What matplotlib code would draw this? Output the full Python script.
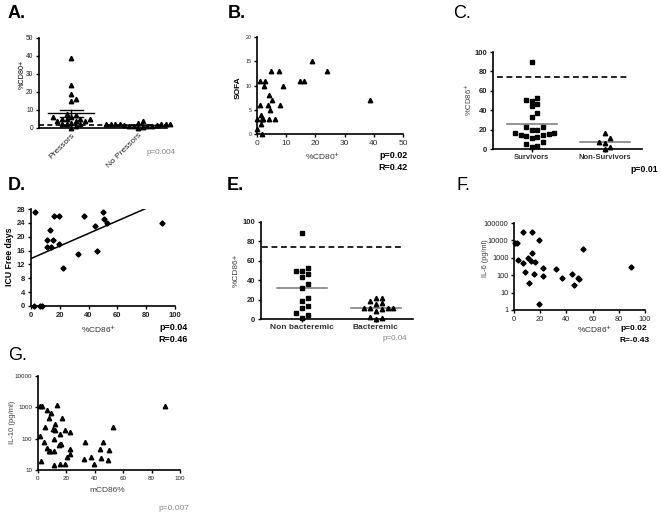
import numpy as np
import matplotlib
matplotlib.use("Agg")
import matplotlib.pyplot as plt

plt.rcParams['font.family'] = ['Liberation Sans', 'DejaVu Sans']

# ---------------- data ----------------
# A
a_cats = ["Pressors", "No Pressors"]
a_pressors = [39, 24, 19, 16, 15, 8, 7, 6, 6, 5, 5, 5, 5, 4, 4, 4, 3, 2, 2, 2, 1, 0]
a_nopressors = [4, 3, 2, 2, 2, 2, 2, 2, 2, 1.5, 1.5, 1, 1, 1, 1, 0.5, 0]
a_threshold = 1.5
a_yticks = [0, 10, 20, 30, 40, 50]

# B
b_x = [19, 24, 4.7, 7.5, 1.0, 2.7, 2.4, 8.9, 14.7, 16.1, 38.8, 4.2, 5.0, 0.9, 3.9, 8.0,
       4.5, 1.4, 1.8, 2.2, 4.1, 6.2, 0.0, 1.4, 0.0, 1.6]
b_y = [15, 13, 13, 13, 11, 11, 10, 10, 11, 11, 7, 8, 7, 6, 6, 6,
       5, 4, 3, 3, 3, 3, 3, 2, 1, 0]
b_xticks = [0, 10, 20, 30, 40, 50]
b_yticks = [0, 5, 10, 15, 20]

# C
c_cats = ["Survivors", "Non-Survivors"]
c_surv = [90, 53, 50.5, 49.5, 46, 44, 37, 33, 23, 23, 19.6, 19.6, 16, 16, 15, 14, 14,
          13, 12, 11, 7, 5, 3.5, 2]
c_nonsurv = [17, 11, 7.5, 6, 2.5, 0]
c_threshold = 74
c_yticks = [0, 20, 40, 60, 80, 100]

# D
d_x = [2.5, 15.7, 19.6, 37, 49.7, 50.8, 53, 44.6, 13.4, 11, 15, 11, 14, 19.6, 32.6,
       46, 22, 90.8, 2, 6, 7.5]
d_y = [27, 26, 26, 26, 27, 25, 24, 23, 22, 19, 19, 17, 17, 18, 15, 16, 11, 24, 0, 0, 0]
d_fit_x = [0, 80]
d_fit_y = [13.7, 28.2]
d_xticks = [0, 20, 40, 60, 80, 100]
d_yticks = [0, 4, 8, 12, 16, 20, 24, 28]

# E
e_cats = ["Non bacteremic", "Bacteremic"]
e_nonbact = [89, 53, 49.7, 49, 46, 43.5, 36, 31.5, 22, 18.5, 13.7, 11, 6, 4, 1.4]
e_bact = [22, 22, 19, 16, 15, 11.6, 11.6, 11.6, 11, 10, 8, 2.4, 0.7, 0]
e_threshold = 74
e_yticks = [0, 20, 40, 60, 80, 100]

# F
f_x = [0.8, 2, 3.3, 6.6, 7.1, 8.1, 11, 11.5, 12.7, 13.7, 14, 15.3, 16, 19.3, 19.3,
       22.4, 22.4, 32, 36.4, 44.3, 46, 49, 49.5, 53, 89.3]
f_y = [6800, 6800, 740, 32000, 480, 146, 1000, 34, 660, 32000, 1800, 122, 600, 10500, 2.2,
       270, 86, 228, 66, 112, 27, 72, 60, 3100, 310]
f_xticks = [0, 20, 40, 60, 80, 100]
f_yticks = [1, 10, 100, 1000, 10000, 100000]
f_yticklabels = ["1", "10", "100", "1000", "10000", "100000"]

# G
g_x = [1.2, 2.8, 13.6, 89.4, 6.4, 9.4, 7.5, 17.2, 12.2, 4.7, 10.6, 12.2, 19.3, 22.4,
       15.8, 52.7, 1.2, 11, 4.2, 33, 45.9, 15.3, 14.6, 16, 6.4, 22.4, 43.8, 7.5, 8.7,
       11, 50, 22.4, 20.5, 37.2, 32.5, 44.2, 49.2, 1.9, 15.3, 11, 19.3, 39.3]
g_y = [1120, 1120, 1180, 1120, 810, 670, 465, 450, 295, 230, 200, 190, 190, 166,
       137, 230, 126, 96, 77, 77, 77, 68, 63, 66, 52, 47, 47, 41, 41,
       41, 42, 32, 26, 26, 23, 24, 21, 19, 16, 14, 15, 15.5]
g_xticks = [0, 20, 40, 60, 80, 100]
g_yticks = [10, 100, 1000, 10000]
g_yticklabels = ["10", "100", "1000", "10000"]

# ---------------- figure ----------------
W, H = 661, 516
fig = plt.figure(figsize=(W / 100, H / 100), dpi=100)


def add_ax(x0, x1, ybot, ytop):
    ax = fig.add_axes([x0 / W, 1 - ybot / H, (x1 - x0) / W, (ybot - ytop) / H])
    for s in ("top", "right"):
        ax.spines[s].set_visible(False)
    for s in ("left", "bottom"):
        ax.spines[s].set_linewidth(1.2)
    ax.tick_params(direction="out", length=2.5, width=1.0, pad=1.5,
                   labelsize=5.5, labelcolor="#222222")
    ax.patch.set_alpha(0)
    return ax


def ptext(x, y, s, **kw):
    fig.text(x / W, 1 - y / H, s, **kw)


def set_label(ax, axis, text, px, py, **kw):
    pos = ax.get_position()
    axx = (px / W - pos.x0) / pos.width
    axy = ((1 - py / H) - pos.y0) / pos.height
    if axis == "y":
        ax.set_ylabel(text, va="center", ha="center", **kw)
        ax.yaxis.set_label_coords(axx, axy)
    else:
        ax.set_xlabel(text, va="center", ha="center", **kw)
        ax.xaxis.set_label_coords(axx, axy)


def swarm(ax, xc, vals, d_px):
    trans = ax.transData
    inv = trans.inverted()
    placed = []
    xs = np.zeros(len(vals))
    order = np.argsort(vals)
    for i in order:
        xpx0, ypx = trans.transform((xc, vals[i]))
        for k in range(60):
            off = ((k + 1) // 2) * d_px * (1 if k % 2 else -1)
            xp = xpx0 + off
            ok = all((xp - px) ** 2 + (ypx - py) ** 2 >= (d_px * 0.95) ** 2 for px, py in placed)
            if ok:
                break
        placed.append((xp, ypx))
        xs[i] = inv.transform((xp, ypx))[0]
    return xs


bold = dict(fontweight="bold")

# ---- A ----
axA = add_ax(39, 167, 128, 38)
axA.set_ylim(0, 50)
axA.set_xlim(-0.48, 1.43)
axA.set_yticks(a_yticks)
axA.set_xticks([0, 1])
axA.set_xticklabels(a_cats, rotation=45, ha="right", rotation_mode="anchor",
                    fontsize=6, color="#222222")
axA.tick_params(axis="x", length=0, pad=3)
axA.tick_params(axis="y", labelsize=4.8)
for i, vals in enumerate([a_pressors, a_nopressors]):
    xs = swarm(axA, i, vals, 4.6)
    axA.plot(xs, vals, ls="none", marker="^", ms=3.2, color="black", clip_on=False, zorder=3)
    m = np.mean(vals)
    sem = np.std(vals, ddof=1) / np.sqrt(len(vals))
    axA.plot([i - 0.34, i + 0.34], [m, m], color="black", lw=1.0, zorder=4)
    axA.plot([i - 0.17, i + 0.17], [m + sem, m + sem], color="black", lw=1.0, zorder=4)
    axA.plot([i - 0.17, i + 0.17], [m - sem, m - sem], color="black", lw=1.0, zorder=4)
    axA.plot([i, i], [m - sem, m + sem], color="black", lw=1.0, zorder=4)
axA.plot([-0.48, 1.43], [a_threshold, a_threshold], ls=(0, (3, 2)), color="black",
         lw=1.2, clip_on=False, zorder=2)
set_label(axA, "y", "%CD80+", 22, 74, fontsize=5.2)
ptext(8, 13, "A.", fontsize=13, **bold, va="center")
ptext(147, 152, "p=0.004", fontsize=5.8, color="#888888", va="center")

# ---- B ----
axB = add_ax(257, 403, 134, 37)
axB.set_xlim(0, 50)
axB.set_ylim(0, 20)
axB.set_xticks(b_xticks)
axB.set_yticks(b_yticks)
axB.tick_params(axis="x", labelsize=6, labelcolor="#333333")
axB.tick_params(axis="y", labelsize=3.8)
axB.plot(b_x, b_y, ls="none", marker="^", ms=3.2, color="black", clip_on=False, zorder=3)
set_label(axB, "y", "SOFA", 238, 88, fontsize=6, **bold)
set_label(axB, "x", "%CD80$^{+}$", 323, 156, fontsize=6, color="#333333")
ptext(228, 13, "B.", fontsize=13, **bold, va="center")
ptext(379, 156, "p=0.02", fontsize=6.5, **bold, va="center")
ptext(378, 168, "R=0.42", fontsize=6.5, **bold, va="center")

# ---- C ----
axC = add_ax(493, 642, 149, 52)
axC.set_ylim(0, 100)
axC.set_xlim(-0.53, 1.51)
axC.set_yticks(c_yticks)
axC.set_xticks([0, 1])
axC.set_xticklabels(c_cats, fontsize=5.5, fontweight="bold", color="#333333")
axC.tick_params(axis="y", labelsize=5.5)
axC.tick_params(axis="x", length=2, pad=1.5)
for ylab in axC.get_yticklabels():
    ylab.set_fontweight("bold")
for i, (vals, mk) in enumerate([(c_surv, "s"), (c_nonsurv, "^")]):
    xs = swarm(axC, i, vals, 5.6)
    axC.plot(xs, vals, ls="none", marker=mk, ms=3.3 if mk == "s" else 3.2,
             color="black", clip_on=False, zorder=3)
    m = np.mean(vals)
    axC.plot([i - 0.34, i + 0.34], [m, m], color="#777777", lw=1.1, zorder=2)
axC.plot([-0.48, 1.30], [c_threshold, c_threshold], ls=(0, (3.5, 2.2)), color="black", lw=1.2)
set_label(axC, "y", "%CD86$^{+}$", 468, 100, fontsize=5.5, color="#444444")
ptext(453, 14, "C.", fontsize=13, va="center")
ptext(630, 169, "p=0.01", fontsize=6.2, **bold, va="center")

# ---- D ----
axD = add_ax(31, 175, 306, 209)
axD.set_xlim(0, 100)
axD.set_ylim(0, 28)
axD.set_xticks(d_xticks)
axD.set_yticks(d_yticks)
for lab in axD.get_xticklabels() + axD.get_yticklabels():
    lab.set_fontweight("bold")
axD.plot(d_x, d_y, ls="none", marker="D", ms=2.6, color="black", clip_on=False, zorder=3)
axD.plot(d_fit_x, d_fit_y, color="black", lw=1.1)
set_label(axD, "y", "ICU Free days", 9, 257, fontsize=6.3, **bold)
set_label(axD, "x", "%CD86$^{+}$", 99, 329, fontsize=6, color="#333333")
ptext(8, 186, "D.", fontsize=13, **bold, va="center")
ptext(159, 327, "p=0.04", fontsize=6.5, **bold, va="center")
ptext(158, 340, "R=0.46", fontsize=6.5, **bold, va="center")

# ---- E ----
axE = add_ax(261, 413, 319, 222)
axE.set_ylim(0, 100)
axE.set_xlim(-0.55, 1.5)
axE.set_yticks(e_yticks)
axE.set_xticks([0, 1])
axE.set_xticklabels(e_cats, fontsize=6, fontweight="bold", color="#333333")
axE.tick_params(axis="x", length=2, pad=1.5)
for lab in axE.get_yticklabels():
    lab.set_fontweight("bold")
for i, (vals, mk) in enumerate([(e_nonbact, "s"), (e_bact, "^")]):
    xs = swarm(axE, i, vals, 5.8)
    axE.plot(xs, vals, ls="none", marker=mk, ms=3.3 if mk == "s" else 3.2,
             color="black", clip_on=False, zorder=3)
    m = np.mean(vals)
    axE.plot([i - 0.34, i + 0.34], [m, m], color="#777777", lw=1.1, zorder=2)
axE.plot([-0.53, 1.35], [e_threshold, e_threshold], ls=(0, (3.5, 2.2)), color="black", lw=1.2)
set_label(axE, "y", "%CD86+", 236, 270, fontsize=6, color="#444444")
ptext(227, 185, "E.", fontsize=13, **bold, va="center")
ptext(383, 338, "p=0.04", fontsize=5.8, color="#888888", va="center")

# ---- F ----
axF = add_ax(514, 645, 310, 223)
axF.set_yscale("log")
axF.set_xlim(0, 100)
axF.set_ylim(1, 100000)
axF.set_xticks(f_xticks)
axF.set_yticks(f_yticks)
axF.set_yticklabels(f_yticklabels)
axF.minorticks_off()
axF.tick_params(axis="y", which="minor", length=0)
axF.tick_params(axis="both", labelsize=5.3)
axF.plot(f_x, f_y, ls="none", marker="D", ms=2.6, color="black", clip_on=False, zorder=3)
set_label(axF, "y", "IL-6 (pg/ml)", 486, 258, fontsize=5.3, color="#444444")
set_label(axF, "x", "%CD86$^{+}$", 595, 329, fontsize=6, color="#333333")
ptext(457, 186, "F.", fontsize=13, va="center")
ptext(620, 329, "p=0.02", fontsize=6.0, **bold, va="center")
ptext(619, 341, "R=-0.43", fontsize=6.0, **bold, va="center")

# ---- G ----
axG = add_ax(38, 180, 470, 376)
axG.set_yscale("log")
axG.set_xlim(0, 100)
axG.set_ylim(10, 10000)
axG.set_xticks(g_xticks)
axG.set_yticks(g_yticks)
axG.set_yticklabels(g_yticklabels)
axG.minorticks_off()
axG.tick_params(axis="y", which="minor", length=0)
axG.tick_params(axis="both", labelsize=4.5)
axG.plot(g_x, g_y, ls="none", marker="^", ms=3.2, color="black", clip_on=False, zorder=3)
set_label(axG, "y", "IL-10 (pg/ml)", 12, 422, fontsize=5.5, color="#444444")
set_label(axG, "x", "mCD86%", 107, 490, fontsize=6, color="#444444")
ptext(8, 356, "G.", fontsize=13, va="center")
ptext(158, 508, "p=0.007", fontsize=6.0, color="#888888", va="center")

fig.savefig("out.png", dpi=100)
